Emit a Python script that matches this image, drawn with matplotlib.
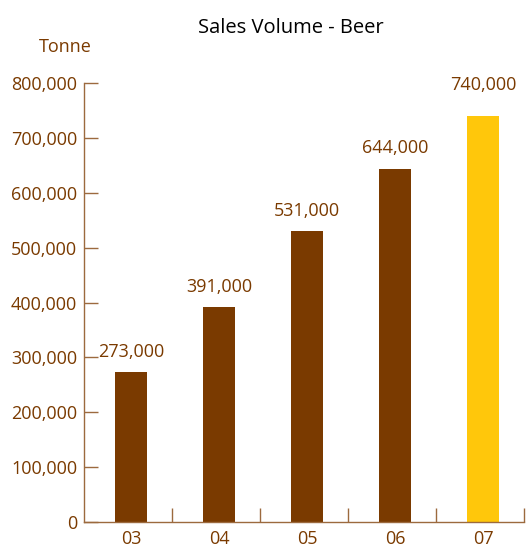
import matplotlib.pyplot as plt

years = ['03', '04', '05', '06', '07']
volume = [273000, 391000, 531000, 644000, 740000]
labels = ['273,000', '391,000', '531,000', '644,000', '740,000']
yticks = [0, 100000, 200000, 300000, 400000, 500000, 600000, 700000, 800000]

brown = '#7a3a00'
yellow = '#ffc70b'
axis_col = '#9c6a3e'
text_col = '#7a3a00'

plt.rcParams['font.family'] = ['Open Sans', 'DejaVu Sans']

fig = plt.figure(figsize=(5.26, 5.51), dpi=100)
ax = fig.add_axes([84 / 526, 29 / 551, 440 / 526, 439 / 551])

colors = [brown] * 4 + [yellow]
x = list(range(len(years)))
# bars sit a little right of the category centre in the original
ax.bar([i + 0.035 for i in x], volume, width=0.37, color=colors, zorder=2)

for i, v in enumerate(volume):
    off = 16 if i == 4 else 8
    ax.annotate(labels[i], (i + 0.035, v), xytext=(0, off), textcoords='offset points',
                ha='center', va='bottom', fontsize=13, color=text_col)

ax.set_xlim(-0.5, 4.5)
ax.set_ylim(0, 800000)
ax.set_yticks(yticks)
ax.set_yticklabels([f'{t:,}' for t in yticks])
ax.set_xticks([i + 0.035 for i in x])
ax.set_xticklabels(years)
ax.set_xticks([0.5, 1.5, 2.5, 3.5, 4.5], minor=True)

ax.tick_params(axis='y', direction='in', length=10, width=1, color=axis_col,
               labelcolor=text_col, labelsize=13, pad=5)
ax.tick_params(axis='x', which='major', length=0, labelcolor=text_col,
               labelsize=13, pad=6)
ax.tick_params(axis='x', which='minor', direction='in', length=10, width=1,
               color=axis_col)

for s in ['top', 'right']:
    ax.spines[s].set_visible(False)
for s in ['left', 'bottom']:
    ax.spines[s].set_color(axis_col)
    ax.spines[s].set_linewidth(1)

fig.text(291 / 526, 1 - 28 / 551, 'Sales Volume - Beer', ha='center', va='center',
         fontsize=14.5, color='black')
fig.text(65 / 526, 1 - 47 / 551, 'Tonne', ha='center', va='center',
         fontsize=13, color=text_col)

fig.savefig('out.png', dpi=100)
